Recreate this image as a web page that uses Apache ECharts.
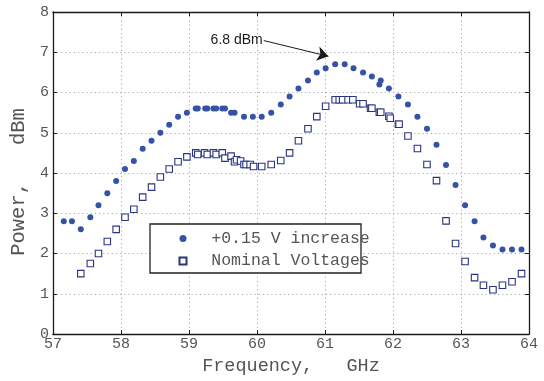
<!DOCTYPE html>
<html>
<head>
<meta charset="utf-8">
<script src="https://cdn.jsdelivr.net/npm/echarts@6/dist/echarts.min.js"></script>
<style>
html,body{margin:0;padding:0;background:#fff;}
#chart{width:544px;height:381px;}
</style>
</head>
<body>
<div id="chart"></div>
<script>
// ---- data ----
const seriesNames = ['+0.15 V increase', 'Nominal Voltages'];

const increaseFreq = [57.16,57.28,57.41,57.55,57.67,57.80,57.93,58.06,58.19,58.32,58.45,58.58,58.71,58.84,58.97,
  59.10,59.13,59.24,59.27,59.36,59.40,59.49,59.53,59.62,59.67,59.81,59.94,60.07,60.21,60.35,60.48,60.61,60.75,
  60.88,61.01,61.15,61.29,61.42,61.56,61.69,61.80,61.82,61.94,62.08,62.22,62.36,62.50,62.64,62.78,62.92,63.06,
  63.20,63.33,63.47,63.61,63.75,63.89];
const increasePower = [2.8,2.8,2.6,2.9,3.2,3.5,3.8,4.1,4.3,4.6,4.8,5.0,5.2,5.4,5.5,
  5.6,5.6,5.6,5.6,5.6,5.6,5.6,5.6,5.5,5.5,5.4,5.4,5.4,5.5,5.7,5.9,6.1,6.3,
  6.5,6.6,6.7,6.7,6.6,6.5,6.4,6.2,6.3,6.1,5.9,5.7,5.4,5.1,4.7,4.2,3.7,3.2,
  2.8,2.4,2.2,2.1,2.1,2.1];

const nominalFreq = [57.41,57.55,57.67,57.80,57.93,58.06,58.19,58.32,58.45,58.58,58.71,58.84,58.97,
  59.10,59.13,59.23,59.27,59.36,59.40,59.49,59.53,59.62,59.67,59.70,59.76,59.81,59.84,59.90,59.95,60.07,
  60.21,60.35,60.48,60.61,60.75,60.88,61.01,61.15,61.21,61.26,61.34,61.41,61.51,61.56,61.67,61.69,61.80,
  61.82,61.94,61.96,62.08,62.09,62.22,62.36,62.50,62.64,62.78,62.92,63.06,63.20,63.33,63.47,63.61,63.75,63.89];
const nominalPower = [1.5,1.75,2.0,2.3,2.6,2.9,3.1,3.4,3.65,3.9,4.1,4.28,4.4,
  4.5,4.46,4.5,4.46,4.5,4.46,4.5,4.37,4.42,4.28,4.33,4.3,4.21,4.21,4.21,4.16,4.16,
  4.21,4.31,4.5,4.8,5.1,5.4,5.66,5.82,5.82,5.82,5.82,5.82,5.72,5.72,5.61,5.61,5.51,
  5.51,5.41,5.36,5.21,5.21,4.92,4.61,4.21,3.81,2.81,2.25,1.8,1.4,1.21,1.1,1.21,1.3,1.5];

const xTicks = [57,58,59,60,61,62,63,64];
const yTicks = [0,1,2,3,4,5,6,7,8];

const peakLabel = '6.8 dBm';
const arrowStart = [60.10, 7.29];
const arrowEnd = [61.05, 6.90];

// ---- chart ----
const mono = '"Liberation Mono", "DejaVu Sans Mono", monospace';
const zip = (a, b) => a.map((v, i) => [v, b[i]]);
const frame = '#1a1a1a';
const textGray = '#555';

const chart = echarts.init(document.getElementById('chart'), null, {renderer: 'canvas'});

const axisCommon = {
  type: 'value',
  axisLine: {show: true, onZero: false, lineStyle: {color: frame, width: 1.3}},
  axisTick: {show: true, inside: true, length: 4, lineStyle: {color: frame, width: 1}},
};

chart.setOption({
  animation: false,
  backgroundColor: '#fff',
  grid: {left: 50, right: 15, top: 12, bottom: 44},
  xAxis: [
    Object.assign({}, axisCommon, {
      position: 'bottom',
      min: xTicks[0], max: xTicks[xTicks.length - 1], interval: 1,
      name: 'Frequency,   GHz', nameLocation: 'middle', nameGap: 23,
      nameTextStyle: {fontFamily: mono, fontSize: 18.5, color: textGray},
      axisLabel: {margin: 3, fontFamily: mono, fontSize: 15, color: textGray},
      splitLine: {show: true, lineStyle: {color: '#aaa', type: [1.2, 3], width: 1}}
    }),
    Object.assign({}, axisCommon, {
      position: 'top',
      min: xTicks[0], max: xTicks[xTicks.length - 1], interval: 1,
      axisLabel: {show: false}, splitLine: {show: false}
    })
  ],
  yAxis: [
    Object.assign({}, axisCommon, {
      position: 'left',
      min: yTicks[0], max: yTicks[yTicks.length - 1], interval: 1,
      name: 'Power,   dBm', nameLocation: 'middle', nameGap: 17,
      nameTextStyle: {fontFamily: mono, fontSize: 20.5, color: textGray, padding: [0, 18, 0, 0]},
      axisLabel: {margin: 4, fontFamily: mono, fontSize: 15, color: textGray},
      splitLine: {show: true, lineStyle: {color: '#aaa', type: [1.2, 3], width: 1}}
    }),
    Object.assign({}, axisCommon, {
      position: 'right',
      min: yTicks[0], max: yTicks[yTicks.length - 1], interval: 1,
      axisLabel: {show: false}, splitLine: {show: false}
    })
  ],
  legend: {
    orient: 'vertical',
    left: 178.5, top: 230,
    padding: 0,
    itemWidth: 7, itemHeight: 7, itemGap: 5.6,
    formatter: n => '  ' + n,
    textStyle: {fontFamily: mono, fontSize: 16.5, color: textGray, lineHeight: 16},
    data: [
      {name: seriesNames[0], icon: 'circle'},
      {name: seriesNames[1], icon: 'rect'}
    ],
    z: 5
  },
  graphic: [{
    type: 'rect', z: 3, silent: true,
    shape: {x: 150, y: 224, width: 211, height: 49},
    style: {fill: '#fff', stroke: '#222', lineWidth: 1.3}
  }],
  series: [
    {
      name: seriesNames[0], type: 'scatter', xAxisIndex: 0, yAxisIndex: 0,
      symbol: 'circle', symbolSize: 6,
      itemStyle: {color: '#3453a6', opacity: 1},
      data: zip(increaseFreq, increasePower),
      markLine: {
        silent: true, animation: false,
        symbol: ['none', 'arrow'], symbolSize: 11,
        lineStyle: {type: 'solid', color: '#1a1a1a', width: 1},
        itemStyle: {color: '#1a1a1a'},
        label: {show: false},
        data: [[{coord: arrowStart}, {coord: arrowEnd}]]
      },
      markPoint: {
        silent: true, animation: false,
        symbol: 'circle', symbolSize: 0,
        label: {show: true, position: 'left', distance: 1, formatter: peakLabel,
          fontFamily: '"Liberation Sans", Arial, sans-serif', fontSize: 14, color: '#1a1a1a'},
        data: [{coord: arrowStart}]
      }
    },
    {
      name: seriesNames[1], type: 'scatter', xAxisIndex: 0, yAxisIndex: 0,
      symbol: 'rect', symbolSize: 6.5,
      itemStyle: {color: '#ffffff', borderColor: '#2a3482', borderWidth: 1.1, opacity: 1},
      data: zip(nominalFreq, nominalPower)
    }
  ]
});
</script>
</body>
</html>
